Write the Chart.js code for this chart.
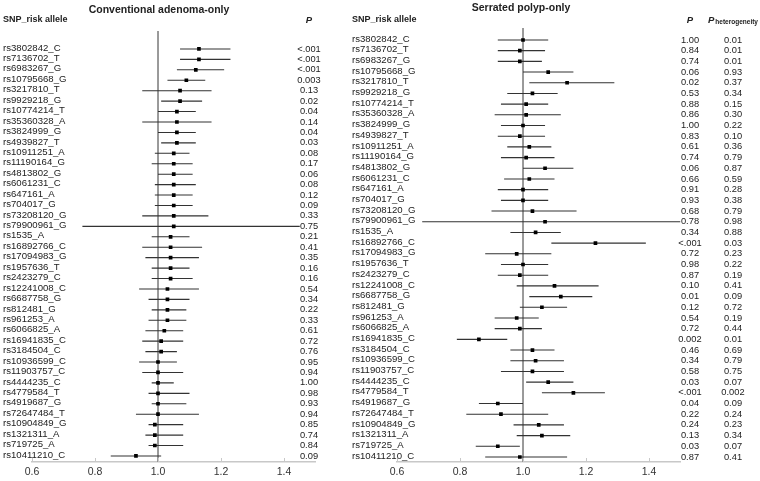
<!DOCTYPE html>
<html>
<head>
<meta charset="utf-8">
<script src="https://cdn.jsdelivr.net/npm/chart.js@4.4.1/dist/chart.umd.min.js"></script>
<style>
  body { margin: 0; background: #fff; }
  #wrap { position: relative; width: 760px; height: 481px; }
  .box { position: absolute; top: 0; }
</style>
</head>
<body>
<div id="wrap">
  <div class="box" style="left:0"><canvas id="adenoma" width="345" height="481"></canvas></div>
  <div class="box" style="left:345px"><canvas id="serrated" width="415" height="481"></canvas></div>
</div>
<script>
const snps = ['rs3802842_C', 'rs7136702_T', 'rs6983267_G', 'rs10795668_G', 'rs3217810_T', 'rs9929218_G',
  'rs10774214_T', 'rs35360328_A', 'rs3824999_G', 'rs4939827_T', 'rs10911251_A', 'rs11190164_G',
  'rs4813802_G', 'rs6061231_C', 'rs647161_A', 'rs704017_G', 'rs73208120_G', 'rs79900961_G',
  'rs1535_A', 'rs16892766_C', 'rs17094983_G', 'rs1957636_T', 'rs2423279_C', 'rs12241008_C',
  'rs6687758_G', 'rs812481_G', 'rs961253_A', 'rs6066825_A', 'rs16941835_C', 'rs3184504_C',
  'rs10936599_C', 'rs11903757_C', 'rs4444235_C', 'rs4779584_T', 'rs4919687_G', 'rs72647484_T',
  'rs10904849_G', 'rs1321311_A', 'rs719725_A', 'rs10411210_C'];

// Conventional adenoma-only
const adenomaOR = [1.13, 1.13, 1.12, 1.09, 1.07, 1.07, 1.06, 1.06, 1.06, 1.06, 1.05, 1.05, 1.05, 1.05,
  1.05, 1.05, 1.05, 1.05, 1.04, 1.04, 1.04, 1.04, 1.04, 1.03, 1.03, 1.03, 1.03, 1.02, 1.01, 1.01,
  1.00, 1.00, 1.00, 1.00, 1.00, 1.00, 0.99, 0.99, 0.99, 0.93];
const adenomaLow = [1.07, 1.07, 1.06, 1.03, 0.95, 1.01, 1.00, 0.95, 1.00, 1.01, 0.99, 0.98, 1.00, 0.99,
  0.99, 0.99, 0.95, 0.76, 0.98, 0.95, 0.96, 0.98, 0.98, 0.94, 0.97, 0.98, 0.97, 0.96, 0.95, 0.96,
  0.94, 0.95, 0.98, 0.97, 0.98, 0.93, 0.97, 0.96, 0.97, 0.85];
const adenomaHigh = [1.23, 1.23, 1.21, 1.15, 1.17, 1.14, 1.12, 1.17, 1.12, 1.12, 1.10, 1.11, 1.11, 1.12,
  1.11, 1.11, 1.16, 1.45, 1.10, 1.14, 1.13, 1.10, 1.11, 1.13, 1.10, 1.09, 1.09, 1.08, 1.08, 1.06,
  1.06, 1.08, 1.05, 1.10, 1.09, 1.13, 1.08, 1.08, 1.08, 1.01];
const adenomaP = ['<.001', '<.001', '<.001', '0.003', '0.13', '0.02', '0.04', '0.14', '0.04', '0.03',
  '0.08', '0.17', '0.06', '0.08', '0.12', '0.09', '0.33', '0.75', '0.21', '0.41', '0.35', '0.16',
  '0.16', '0.54', '0.34', '0.22', '0.33', '0.61', '0.72', '0.76', '0.95', '0.94', '1.00', '0.98',
  '0.93', '0.94', '0.85', '0.74', '0.84', '0.09'];

// Serrated polyp-only
const serratedOR = [1.00, 0.99, 0.99, 1.08, 1.14, 1.03, 1.01, 1.01, 1.00, 0.99, 1.02, 1.01, 1.07, 1.02,
  1.00, 1.00, 1.03, 1.07, 1.04, 1.23, 0.98, 1.00, 0.99, 1.10, 1.12, 1.06, 0.98, 0.99, 0.86, 1.03,
  1.04, 1.03, 1.08, 1.16, 0.92, 0.93, 1.05, 1.06, 0.92, 0.99];
const serratedLow = [0.92, 0.92, 0.92, 1.00, 1.02, 0.95, 0.93, 0.91, 0.93, 0.92, 0.95, 0.93, 1.00, 0.94,
  0.92, 0.93, 0.90, 0.68, 0.96, 1.09, 0.88, 0.93, 0.92, 0.98, 1.02, 0.99, 0.91, 0.91, 0.79, 0.96,
  0.96, 0.93, 1.01, 1.06, 0.86, 0.82, 0.97, 0.98, 0.85, 0.88];
const serratedHigh = [1.08, 1.07, 1.06, 1.16, 1.29, 1.11, 1.08, 1.12, 1.07, 1.07, 1.09, 1.10, 1.16, 1.10,
  1.08, 1.08, 1.17, 1.50, 1.12, 1.39, 1.09, 1.08, 1.08, 1.24, 1.22, 1.14, 1.05, 1.06, 0.95, 1.10,
  1.13, 1.13, 1.16, 1.26, 1.00, 1.08, 1.13, 1.15, 0.99, 1.14];
const serratedP = ['1.00', '0.84', '0.74', '0.06', '0.02', '0.53', '0.88', '0.86', '1.00', '0.83',
  '0.61', '0.74', '0.06', '0.66', '0.91', '0.93', '0.68', '0.78', '0.34', '<.001', '0.72', '0.98',
  '0.87', '0.10', '0.01', '0.12', '0.54', '0.72', '0.002', '0.46', '0.34', '0.58', '0.03', '<.001',
  '0.04', '0.22', '0.24', '0.13', '0.03', '0.87'];
const serratedPhet = ['0.01', '0.01', '0.01', '0.93', '0.37', '0.34', '0.15', '0.30', '0.22', '0.10',
  '0.36', '0.79', '0.87', '0.59', '0.28', '0.38', '0.79', '0.98', '0.88', '0.03', '0.23', '0.22',
  '0.19', '0.41', '0.09', '0.72', '0.19', '0.44', '0.01', '0.69', '0.79', '0.75', '0.07', '0.002',
  '0.09', '0.24', '0.23', '0.34', '0.07', '0.41'];

const xTicks = [0.6, 0.8, 1.0, 1.2, 1.4];

const FONT = '"Liberation Sans", Arial, sans-serif';

// line segments for the confidence intervals, separated by gaps
function ciSegments(low, high) {
    const pts = [];
    low.forEach((lo, i) => {
        pts.push({x: lo, y: i}, {x: high[i], y: i}, {x: null, y: null});
    });
    return pts;
}

// draws row labels, p-value columns, headers, title and inner tick marks
const panelText = {
    id: 'panelText',
    afterDraw(chart, args, o) {
        const ctx = chart.ctx;
        const x = chart.scales.x;
        const y = chart.scales.y;
        ctx.save();

        // small tick marks pointing up from the axis
        ctx.strokeStyle = '#c8c8c8';
        ctx.lineWidth = 1;
        xTicks.forEach(t => {
            const px = Math.round(x.getPixelForValue(t)) + 0.5;
            ctx.beginPath();
            ctx.moveTo(px, chart.chartArea.bottom);
            ctx.lineTo(px, chart.chartArea.bottom - 4);
            ctx.stroke();
        });

        // title
        ctx.fillStyle = '#222';
        ctx.textBaseline = 'middle';
        ctx.textAlign = 'center';
        ctx.font = 'bold 10.5px ' + FONT;
        ctx.fillText(o.title, o.titleX, o.titleY);

        // headers
        ctx.textAlign = 'left';
        ctx.font = 'bold 9px ' + FONT;
        ctx.fillText('SNP_risk allele', o.labelX, o.headerY);

        // row labels
        ctx.font = '9.6px ' + FONT;
        snps.forEach((s, i) => {
            ctx.fillText(s, o.labelX, y.getPixelForValue(i) - 1);
        });

        o.columns.forEach(col => {
            ctx.textAlign = 'center';
            ctx.font = 'italic bold 9.5px ' + FONT;
            if (col.sub) {
                ctx.textAlign = 'left';
                const pw = ctx.measureText('P').width;
                ctx.font = 'bold 6.5px ' + FONT;
                const sw = ctx.measureText(col.sub).width;
                const left = col.x - (pw + sw + 1) / 2;
                ctx.font = 'italic bold 9.5px ' + FONT;
                ctx.fillText('P', left, o.headerY);
                ctx.font = 'bold 6.5px ' + FONT;
                ctx.fillText(col.sub, left + pw + 1, o.headerY + 2.5);
            } else {
                ctx.fillText('P', col.x, o.headerY);
            }
            ctx.textAlign = 'center';
            ctx.font = '9.3px ' + FONT;
            col.values.forEach((v, i) => {
                ctx.fillText(v, col.x, y.getPixelForValue(i));
            });
        });
        ctx.restore();
    }
};

function makePanel(id, cfg) {
    const ctx = document.getElementById(id).getContext('2d');
    return new Chart(ctx, {
        type: 'line',
        data: {
            datasets: [
                {
                    // reference line at OR = 1
                    data: [{x: 1, y: cfg.yMin}, {x: 1, y: cfg.yMax}],
                    borderColor: '#8c8c8c',
                    borderWidth: 1,
                    pointRadius: 0,
                    order: 3
                },
                {
                    data: ciSegments(cfg.low, cfg.high),
                    borderColor: '#333',
                    borderWidth: 1.1,
                    pointRadius: 0,
                    spanGaps: false,
                    order: 2
                },
                {
                    data: cfg.or.map((v, i) => ({x: v, y: i})),
                    showLine: false,
                    pointStyle: 'rect',
                    pointRadius: 2.6,
                    backgroundColor: '#000',
                    borderColor: '#000',
                    borderWidth: 0,
                    order: 1
                }
            ]
        },
        options: {
            responsive: false,
            animation: false,
            layout: {
                padding: {left: cfg.areaLeft, right: cfg.areaRight, top: cfg.areaTop, bottom: 0}
            },
            scales: {
                x: {
                    type: 'linear',
                    min: 0.6,
                    max: 1.5,
                    afterBuildTicks: (scale) => {
                        scale.ticks = xTicks.map(v => ({value: v}));
                    },
                    afterFit: (scale) => {
                        scale.height = 19;
                    },
                    grid: {display: false, drawTicks: false},
                    border: {display: true, color: '#c8c8c8', width: 1.5},
                    ticks: {
                        padding: 4,
                        color: '#333',
                        font: {family: FONT, size: 10.5},
                        callback: (v) => v.toFixed(1)
                    }
                },
                y: {
                    type: 'linear',
                    display: false,
                    reverse: true,
                    min: cfg.yMin,
                    max: cfg.yMax
                }
            },
            plugins: {
                legend: {display: false},
                tooltip: {enabled: false},
                panelText: {
                    title: cfg.title,
                    titleX: cfg.titleX,
                    titleY: cfg.titleY,
                    labelX: cfg.labelX,
                    headerY: 20,
                    columns: cfg.columns
                }
            }
        },
        plugins: [panelText]
    });
}

makePanel('adenoma', {
    title: 'Conventional adenoma-only',
    titleX: 159, titleY: 10,
    labelX: 3,
    areaLeft: 32, areaRight: 29.5, areaTop: 31,
    yMin: -1.72, yMax: 39.58,
    or: adenomaOR, low: adenomaLow, high: adenomaHigh,
    columns: [{x: 309, values: adenomaP}]
});

makePanel('serrated', {
    title: 'Serrated polyp-only',
    titleX: 176, titleY: 8,
    labelX: 7,
    areaLeft: 52, areaRight: 79.5, areaTop: 28,
    yMin: -1.12, yMax: 39.47,
    or: serratedOR, low: serratedLow, high: serratedHigh,
    columns: [{x: 345, values: serratedP}, {x: 388, values: serratedPhet, sub: 'heterogeneity'}]
});
</script>
</body>
</html>
